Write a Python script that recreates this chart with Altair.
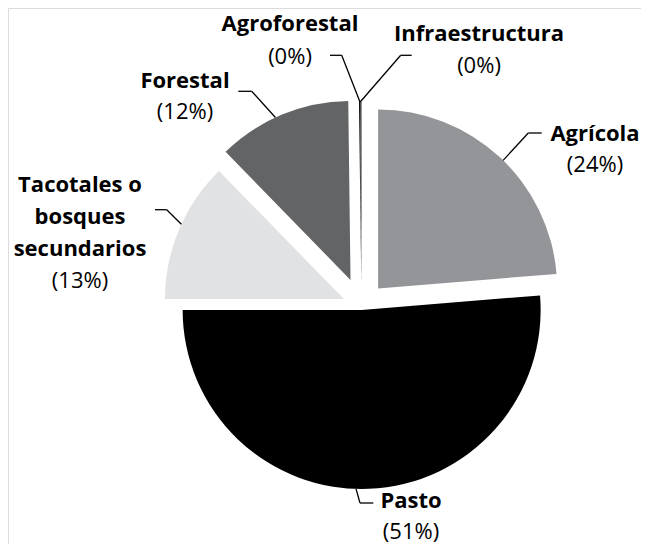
import altair as alt
import pandas as pd

# ---- data ----
categories = ["Agrícola", "Pasto", "Tacotales o\nbosques\nsecundarios", "Forestal", "Agroforestal", "Infraestructura"]
values = [23.7, 51.3, 12.7, 12.1, 0.1, 0.1]

# ---- style / layout (not data) ----
colors = ["#939598", "#000000", "#e1e2e3", "#636466", "#000000", "#111111"]
explode = [24.5, 3.5, 19.0, 28.7, 25.5, 25.5]          # px, along each slice's bisector
anchor_deg = [44.3, 181.8, 294.7, 335.2, 359.6, 359.6]  # where the leader touches the rim
elbow_x = [528.3, 360.0, 166.7, 251.7, 341.7, 400.7]
elbow_y = [135.0, 505.0, 211.7, 93.3, 57.3, 57.3]
end_x = [541.7, 373.3, 155.0, 238.3, 330.0, 411.7]
label_x = [595, 411, 80, 185, 290, 479]
name_y = [143, 510, 194, 90, 33, 43]
pct_y = [174, 541, 290, 121, 66, 75]

MX, MY = 8, 10  # page margin (+2px upward shift so the bottom label fits)
CX, CY = 361.5 - MX, 308.5 - MY
R = 179

df = pd.DataFrame({
    "cat": categories,
    "value": values,
    "order": list(range(len(values))),
    "color": colors,
    "explode": explode,
    "adeg": anchor_deg,
    "ex": [v - MX for v in elbow_x],
    "ey": [v - MY for v in elbow_y],
    "hx": [v - MX for v in end_x],
    "lx": [v - MX for v in label_x],
    "ny": [v - MY for v in name_y],
    "py": [v - MY for v in pct_y],
})

base = (
    alt.Chart(df)
    .transform_joinaggregate(total="sum(value)")
    .transform_window(cum="sum(value)", frame=[None, 0], sort=[alt.SortField("order")])
    .transform_calculate(
        t0="2*PI*(datum.cum-datum.value)/datum.total",
        t1="2*PI*datum.cum/datum.total",
    )
    .transform_calculate(mid="(datum.t0+datum.t1)/2")
    .transform_calculate(
        cx=f"{CX}+datum.explode*sin(datum.mid)",
        cy=f"{CY}-datum.explode*cos(datum.mid)",
    )
    .transform_calculate(
        ax=f"datum.cx+{R}*sin(datum.adeg*PI/180)",
        ay=f"datum.cy-{R}*cos(datum.adeg*PI/180)",
        pct="'(' + format(datum.value/datum.total*100, '.0f') + '%)'",
    )
)

arcs = base.mark_arc(radius=R).encode(
    theta=alt.Theta("t0:Q", scale=None, stack=False),
    theta2="t1:Q",
    x=alt.X("cx:Q", scale=None, axis=None),
    y=alt.Y("cy:Q", scale=None, axis=None),
    color=alt.Color("color:N", scale=None, legend=None),
    order=alt.Order("order:Q"),
)

lead1 = base.mark_rule(color="black", strokeWidth=1.3).encode(
    x=alt.X("ax:Q", scale=None), y=alt.Y("ay:Q", scale=None),
    x2="ex:Q", y2="ey:Q",
)
lead2 = base.mark_rule(color="black", strokeWidth=1.3).encode(
    x=alt.X("ex:Q", scale=None), y=alt.Y("ey:Q", scale=None),
    x2="hx:Q", y2="ey:Q",
)

names = base.mark_text(
    font="Open Sans", fontSize=22, fontWeight="bold", color="black",
    align="center", baseline="alphabetic", lineBreak="\n", lineHeight=32,
).encode(
    x=alt.X("lx:Q", scale=None), y=alt.Y("ny:Q", scale=None), text="cat:N",
)
pcts = base.mark_text(
    font="Open Sans", fontSize=22, color="black",
    align="center", baseline="alphabetic",
).encode(
    x=alt.X("lx:Q", scale=None), y=alt.Y("py:Q", scale=None), text="pct:N",
)

chart = (
    alt.layer(arcs, lead1, lead2, names, pcts)
    .properties(width=633, height=536, autosize="none", padding=0)
    .configure_view(stroke=None)
    .configure(background="white")
)

chart.save("out.html", embed_options={"renderer": "svg", "actions": False})
